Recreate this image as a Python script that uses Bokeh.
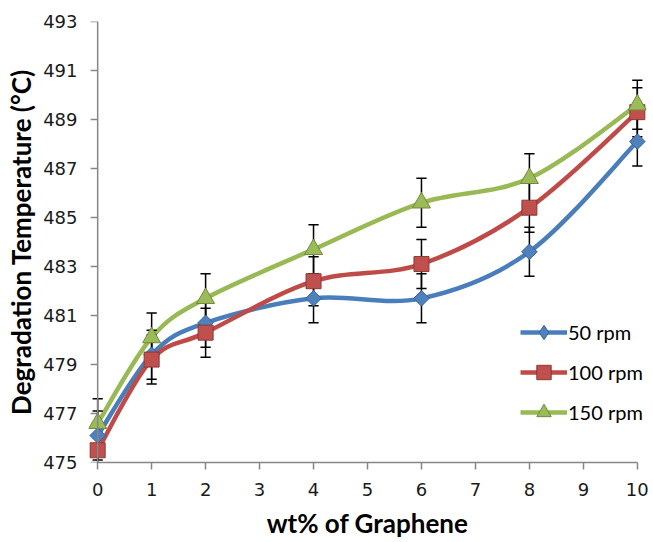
import numpy as np
from bokeh.plotting import figure
from bokeh.models import FixedTicker, Legend, LegendItem, Range1d, ColumnDataSource, Span
from bokeh.embed import file_html
from bokeh.resources import INLINE

# ---- data ----
wt = [0, 1, 2, 4, 6, 8, 10]
rpm50 = [476.1, 479.4, 480.7, 481.7, 481.7, 483.6, 488.1]
rpm100 = [475.5, 479.2, 480.3, 482.4, 483.1, 485.4, 489.3]
rpm150 = [476.6, 480.1, 481.7, 483.7, 485.6, 486.6, 489.6]
err = 1.0
labels = ["50 rpm", "100 rpm", "150 rpm"]
y_ticks = [475, 477, 479, 481, 483, 485, 487, 489, 491, 493]
x_ticks = [0, 1, 2, 3, 4, 5, 6, 7, 8, 9, 10]

line_colors = ["#4A7EBB", "#BE4B48", "#98B954"]
fill_colors = ["#4F81BD", "#C0504D", "#9BBB59"]
edge_colors = ["#3A6496", "#8C3836", "#71893F"]
axis_gray = "#868686"

pad = 0.17  # room so the end markers are not cut by the plot area
p = figure(width=653, height=542, output_backend="svg", toolbar_location=None,
           x_range=Range1d(-pad, 10 + pad), y_range=Range1d(475, 493),
           min_border_left=88, min_border_top=21, min_border_bottom=80, min_border_right=7)
p.outline_line_color = None
p.grid.visible = False
p.background_fill_color = "white"
p.border_fill_color = "white"

for ax in (p.xaxis[0], p.yaxis[0]):
    ax.axis_line_color = axis_gray
    ax.axis_line_width = 1.5
    ax.major_tick_line_color = axis_gray
    ax.major_tick_line_width = 1.5
    ax.major_tick_out = 7
    ax.major_tick_in = 0
    ax.minor_tick_line_color = None
    ax.major_label_text_font = "DejaVu Sans"
    ax.major_label_text_font_size = "18px"
    ax.major_label_text_color = "#1a1a1a"
    ax.axis_label_text_font = "Lato"
    ax.axis_label_text_font_style = "bold"
    ax.axis_label_text_font_size = "26px"
    ax.axis_label_text_color = "black"

p.xaxis.ticker = FixedTicker(ticks=x_ticks)
p.yaxis.ticker = FixedTicker(ticks=y_ticks)
p.xaxis.bounds = (0, 10)
p.xaxis.axis_label = "wt% of Graphene"
p.yaxis.axis_label = "Degradation Temperature (°C)"
p.xaxis.major_label_standoff = 13
p.xaxis.axis_label_standoff = 8

# the y axis line sits at x = 0 (inside the padded plot area); the left axis keeps labels
p.yaxis.axis_line_color = None
p.yaxis.major_tick_line_color = None
p.yaxis.major_tick_out = 0
p.yaxis.major_label_standoff = 11
p.yaxis.axis_label_standoff = 3
p.add_layout(Span(location=0, dimension="height", line_color=axis_gray, line_width=1.5))
p.ray(x=[0] * len(y_ticks), y=y_ticks, length=7, length_units="screen", angle=np.pi,
      line_color=axis_gray, line_width=1.5)


def smooth_ctrl(x, y):
    x = np.asarray(x, float)
    y = np.asarray(y, float)
    xp = np.concatenate([[x[0]], x, [x[-1]]])
    yp = np.concatenate([[y[0]], y, [y[-1]]])
    n = len(x)
    x0, y0 = x[:-1], y[:-1]
    x1, y1 = x[1:], y[1:]
    cx0 = x0 + (xp[2:n + 1] - xp[0:n - 1]) / 6
    cy0 = y0 + (yp[2:n + 1] - yp[0:n - 1]) / 6
    cx1 = x1 - (xp[3:n + 2] - xp[1:n]) / 6
    cy1 = y1 - (yp[3:n + 2] - yp[1:n]) / 6
    return dict(x0=x0, y0=y0, x1=x1, y1=y1, cx0=cx0, cy0=cy0, cx1=cx1, cy1=cy1)


series = [rpm50, rpm100, rpm150]
markers = ["square", "square", "triangle"]
angles = [np.pi / 4, 0, 0]
sizes = [11, 15, 18]

curves = []
for i, ys in enumerate(series):
    src = ColumnDataSource(smooth_ctrl(wt, ys))
    curves.append(p.bezier(x0="x0", y0="y0", x1="x1", y1="y1", cx0="cx0", cy0="cy0",
                           cx1="cx1", cy1="cy1", source=src,
                           line_color=line_colors[i], line_width=4.5))

# error bars
cap = 0.095
for ys in series:
    ya = np.asarray(ys)
    xa = np.asarray(wt, float)
    p.segment(x0=xa, y0=ya - err, x1=xa, y1=ya + err, line_color="black", line_width=1.5)
    p.segment(x0=xa - cap, y0=ya - err, x1=xa + cap, y1=ya - err, line_color="black", line_width=1.5)
    p.segment(x0=xa - cap, y0=ya + err, x1=xa + cap, y1=ya + err, line_color="black", line_width=1.5)

scatters = []
for i, ys in enumerate(series):
    scatters.append(p.scatter(x=wt, y=ys, marker=markers[i], size=sizes[i], angle=angles[i],
                              fill_color=fill_colors[i], line_color=edge_colors[i], line_width=1))

# legend-only diamond (the plotted one is a rotated square)
legend_diamond = p.scatter(x=[np.nan], y=[np.nan], marker="diamond", size=10,
                           fill_color=fill_colors[0], line_color=edge_colors[0], line_width=1)

items = [
    LegendItem(label=labels[0], renderers=[curves[0], legend_diamond]),
    LegendItem(label=labels[1], renderers=[curves[1], scatters[1]]),
    LegendItem(label=labels[2], renderers=[curves[2], scatters[2]]),
]

legend = Legend(items=items, location=(432, 32), orientation="vertical")
legend.border_line_color = None
legend.background_fill_alpha = 0
legend.padding = 0
legend.margin = 0
legend.spacing = 4
legend.glyph_width = 47
legend.glyph_height = 36
legend.label_height = 36
legend.label_standoff = 1
legend.label_text_font = "Lato"
legend.label_text_font_size = "20px"
legend.label_text_color = "black"
p.add_layout(legend, "center")

open("out.html", "w").write(file_html(p, INLINE))
